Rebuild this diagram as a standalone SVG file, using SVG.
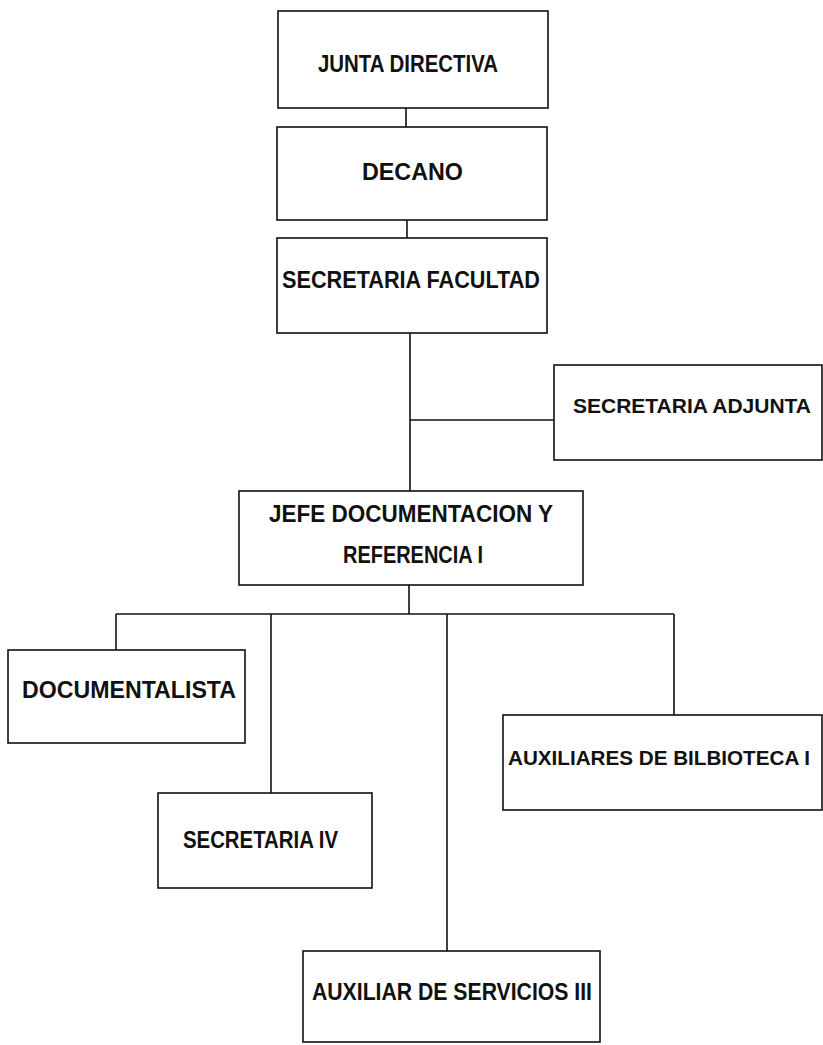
<svg xmlns="http://www.w3.org/2000/svg" width="823" height="1045" viewBox="0 0 823 1045">
<style>
.box{fill:#fff;stroke:#111;stroke-width:1.6}
.lbl{font-family:"Liberation Sans",Arial,sans-serif;font-weight:bold;font-size:24px;fill:#111}
.sm{font-size:21px}
.xs{font-size:20px}
.con{stroke:#111;stroke-width:1.6;fill:none}
</style>
<rect width="823" height="1045" fill="#fff"/>
<g id="connectors">
<path class="con" d="M406,108V127"/>
<path class="con" d="M407,220V238"/>
<path class="con" d="M410,333V491"/>
<path class="con" d="M410,420H554"/>
<path class="con" d="M409,585V614"/>
<path class="con" d="M116,614H674"/>
<path class="con" d="M116,614V650"/>
<path class="con" d="M271,614V793"/>
<path class="con" d="M447,614V951"/>
<path class="con" d="M674,614V715"/>
</g>
<g id="junta">
<rect class="box" x="278" y="11" width="270" height="97"/>
<text class="lbl" x="318" y="72" textLength="180" lengthAdjust="spacingAndGlyphs">JUNTA DIRECTIVA</text>
</g>
<g id="decano">
<rect class="box" x="277" y="127" width="270" height="93"/>
<text class="lbl" x="362" y="180" textLength="101" lengthAdjust="spacingAndGlyphs">DECANO</text>
</g>
<g id="secfac">
<rect class="box" x="277" y="238" width="270" height="95"/>
<text class="lbl" x="282" y="288" textLength="258" lengthAdjust="spacingAndGlyphs">SECRETARIA FACULTAD</text>
</g>
<g id="secadj">
<rect class="box" x="554" y="365" width="268" height="95"/>
<text class="lbl sm" x="573" y="413" textLength="238" lengthAdjust="spacingAndGlyphs">SECRETARIA ADJUNTA</text>
</g>
<g id="jefe">
<rect class="box" x="239" y="491" width="344" height="94"/>
<text class="lbl" x="269" y="522" textLength="284" lengthAdjust="spacingAndGlyphs">JEFE DOCUMENTACION Y</text>
<text class="lbl" x="343" y="563" textLength="140" lengthAdjust="spacingAndGlyphs">REFERENCIA I</text>
</g>
<g id="documentalista">
<rect class="box" x="8" y="650" width="237" height="93"/>
<text class="lbl" x="22" y="698" textLength="214" lengthAdjust="spacingAndGlyphs">DOCUMENTALISTA</text>
</g>
<g id="auxbib">
<rect class="box" x="503" y="715" width="319" height="95"/>
<text class="lbl xs" x="508" y="765" textLength="302" lengthAdjust="spacingAndGlyphs">AUXILIARES DE BILBIOTECA I</text>
</g>
<g id="seciv">
<rect class="box" x="158" y="793" width="214" height="95"/>
<text class="lbl" x="183" y="848" textLength="155" lengthAdjust="spacingAndGlyphs">SECRETARIA IV</text>
</g>
<g id="auxserv">
<rect class="box" x="303" y="951" width="297" height="91"/>
<text class="lbl" x="312" y="1000" textLength="280" lengthAdjust="spacingAndGlyphs">AUXILIAR DE SERVICIOS III</text>
</g>
</svg>
